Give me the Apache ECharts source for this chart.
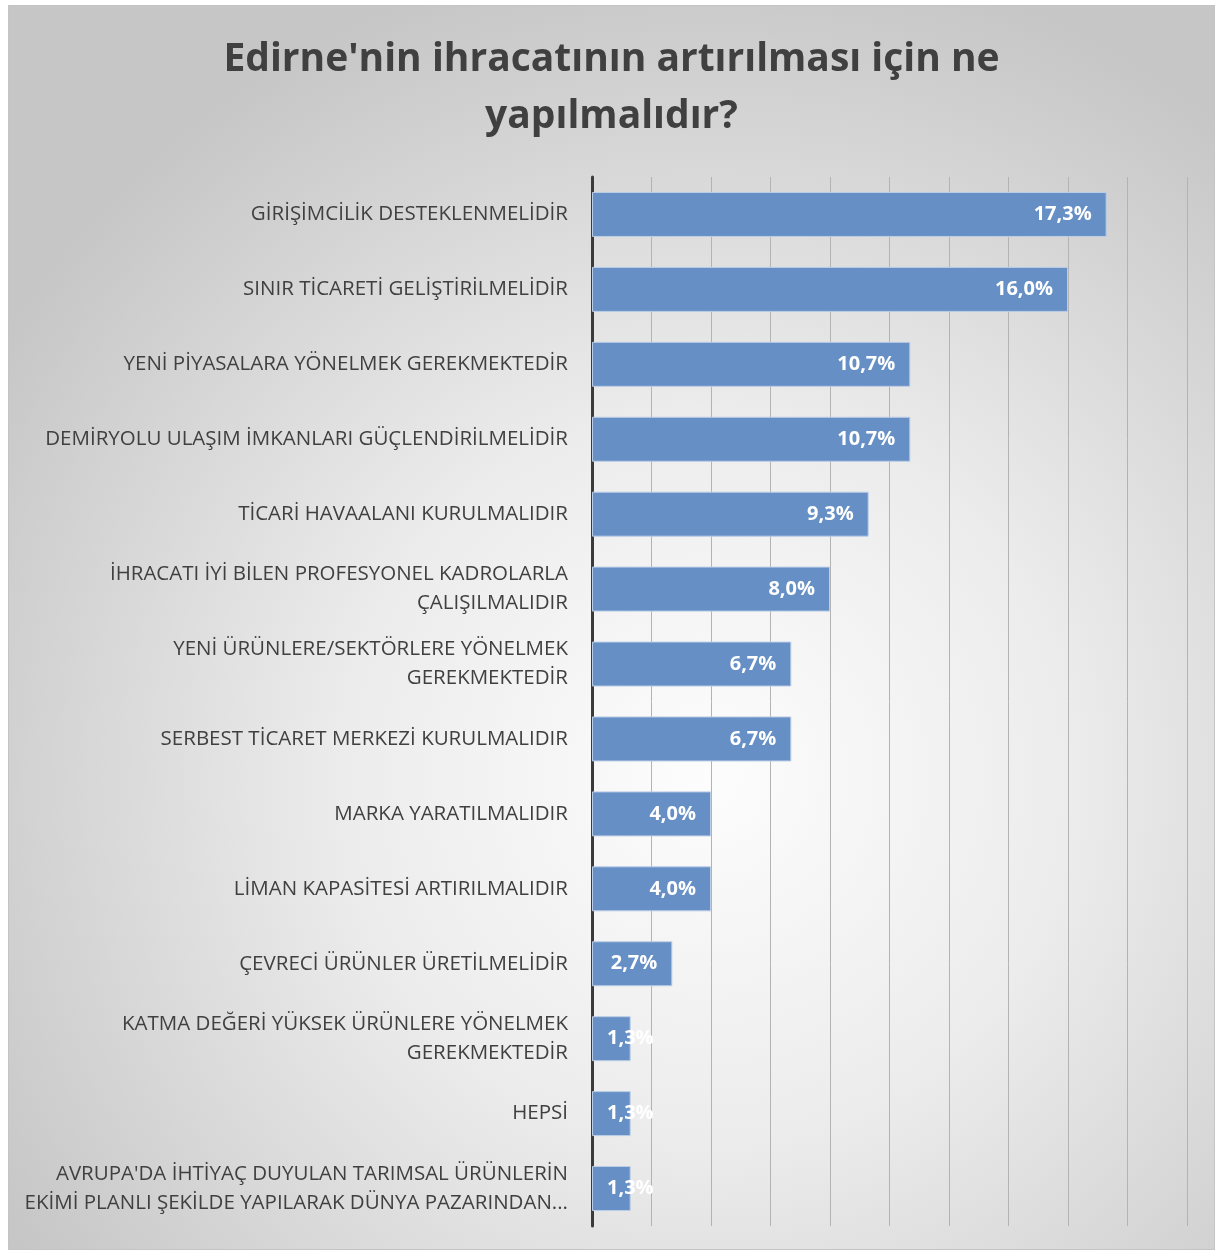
<!DOCTYPE html>
<html>
<head>
<meta charset="utf-8">
<script src="https://cdn.jsdelivr.net/npm/echarts@6/dist/echarts.min.js"></script>
<style>
  html, body { margin: 0; padding: 0; background: #fff; }
  #export-chart {
    position: absolute;
    left: 8px;
    top: 5px;
    width: 1205px;
    height: 1243px;
    border: 1px solid #c4c4c4;
    background: radial-gradient(circle at 58% 62%, #fdfdfd 0%, #ececec 35%, #c6c6c6 80%);
  }
</style>
</head>
<body>
<div id="export-chart"></div>
<script>
  // kategori etiketleri (uzun olanlar iki satır)
  let categories = [
    'GİRİŞİMCİLİK DESTEKLENMELİDİR',
    'SINIR TİCARETİ GELİŞTİRİLMELİDİR',
    'YENİ PİYASALARA YÖNELMEK GEREKMEKTEDİR',
    'DEMİRYOLU ULAŞIM İMKANLARI GÜÇLENDİRİLMELİDİR',
    'TİCARİ HAVAALANI KURULMALIDIR',
    'İHRACATI İYİ BİLEN PROFESYONEL KADROLARLA\nÇALIŞILMALIDIR',
    'YENİ ÜRÜNLERE/SEKTÖRLERE YÖNELMEK\nGEREKMEKTEDİR',
    'SERBEST TİCARET MERKEZİ KURULMALIDIR',
    'MARKA YARATILMALIDIR',
    'LİMAN KAPASİTESİ ARTIRILMALIDIR',
    'ÇEVRECİ ÜRÜNLER ÜRETİLMELİDİR',
    'KATMA DEĞERİ YÜKSEK ÜRÜNLERE YÖNELMEK\nGEREKMEKTEDİR',
    'HEPSİ',
    "AVRUPA'DA İHTİYAÇ DUYULAN TARIMSAL ÜRÜNLERİN\nEKİMİ PLANLI ŞEKİLDE YAPILARAK DÜNYA PAZARINDAN..."
  ];
  let percentages = [17.3, 16.0, 10.7, 10.7, 9.3, 8.0, 6.7, 6.7, 4.0, 4.0, 2.7, 1.3, 1.3, 1.3];

  let chartDom = document.getElementById('export-chart');
  let myChart = echarts.init(chartDom);
  let font = '"Open Sans", "Noto Sans", sans-serif';
  let option;
  option = {
    animation: false,
    textStyle: { fontFamily: font },
    title: {
      text: "Edirne'nin ihracatının artırılması için ne\nyapılmalıdır?",
      left: 'center',
      top: 20,
      textStyle: {
        fontFamily: font,
        fontSize: 39,
        fontWeight: 'bold',
        color: '#404040',
        lineHeight: 57
      }
    },
    grid: {
      left: 583,
      right: 27,
      top: 171,
      bottom: 23
    },
    xAxis: {
      type: 'value',
      min: 0,
      max: 20,
      interval: 2,
      axisLine: { show: false },
      axisTick: { show: false },
      axisLabel: { show: false },
      splitLine: {
        show: true,
        lineStyle: { color: '#b3b3b3', width: 1 }
      }
    },
    yAxis: {
      type: 'category',
      inverse: true,
      data: categories,
      axisLine: { show: true, lineStyle: { color: '#3a3a3a', width: 3 } },
      axisTick: { show: false },
      axisLabel: {
        margin: 24,
        fontSize: 20.5,
        color: '#404040',
        lineHeight: 29,
        align: 'right'
      }
    },
    series: [
      {
        type: 'bar',
        // label too wide for the tiny bars -> start it from the left, like Excel
        data: percentages.map(v => v < 2 ? { value: v, label: { position: 'insideLeft' } } : v),
        barWidth: 45,
        itemStyle: {
          color: '#6690c5',
          borderColor: '#bccde6',
          borderWidth: 1
        },
        label: {
          show: true,
          position: 'insideRight',
          distance: 15,
          color: '#fff',
          fontSize: 20,
          fontWeight: 'bold',
          formatter: p => p.value.toFixed(1).replace('.', ',') + '%'
        }
      }
    ]
  };
  option && myChart.setOption(option);
</script>
</body>
</html>
